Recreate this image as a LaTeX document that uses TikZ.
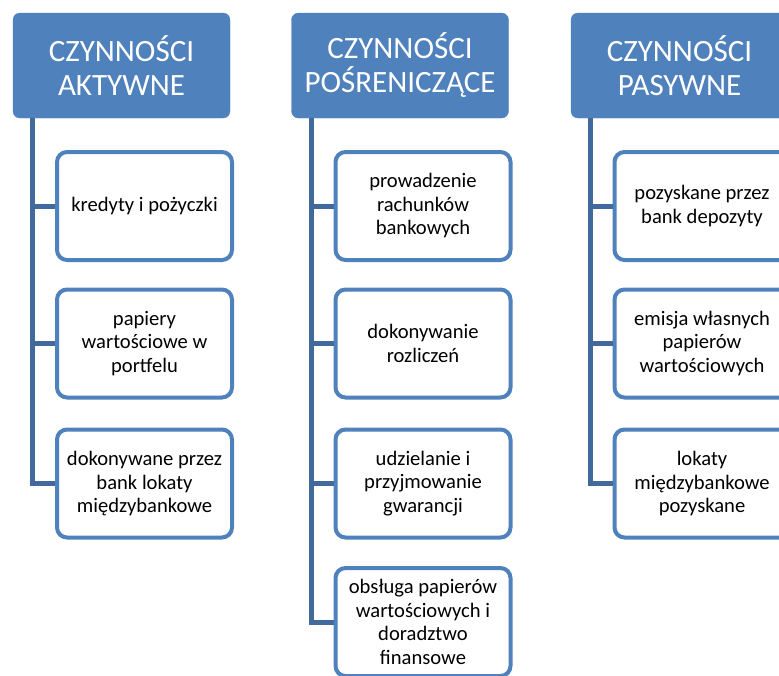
\documentclass[tikz,border=0pt]{standalone}
\usepackage{fontspec}
\setmainfont{Carlito}
\usepackage{tikz}
\usetikzlibrary{positioning}

\definecolor{headblue}{HTML}{4F81BD}
\definecolor{linkblue}{HTML}{41699B}

\begin{document}
\begin{tikzpicture}[x=1pt, y=-1pt,
  head/.style={fill=headblue, draw=headblue, rounded corners=7pt, text=white,
    minimum width=217pt, minimum height=105pt, align=center,
    font=\fontsize{31}{34}\selectfont},
  item/.style={fill=white, draw=headblue, line width=4pt, rounded corners=10pt,
    minimum width=175pt, minimum height=108pt, align=center,
    font=\fontsize{20.6}{23.5}\selectfont},
  branch/.style={draw=linkblue, line width=5pt}]

\useasboundingbox (0,0) rectangle (779,675);
\clip (0,0) rectangle (779,675);

% headers
\node[head] (ha) at (121.5,65.5) {CZYNNOŚCI\\AKTYWNE};
\node[head] (hp) at (400,65.5)   {CZYNNOŚCI\\POŚRENICZĄCE};
\node[head] (hs) at (679.5,65.5) {CZYNNOŚCI\\PASYWNE};

% column 1
\node[item] (a1) at (144.5,206)   {kredyty i pożyczki};
\node[item] (a2) at (144.5,343.5) {papiery\\wartościowe w\\portfelu};
\node[item] (a3) at (144.5,483.5) {dokonywane przez\\bank lokaty\\międzybankowe};

% column 2
\node[item] (p1) at (423,206)   {prowadzenie\\rachunków\\bankowych};
\node[item] (p2) at (423,343.5) {dokonywanie\\rozliczeń};
\node[item] (p3) at (423,483.5) {udzielanie i\\przyjmowanie\\gwarancji};
\node[item] (p4) at (423,622)   {obsługa papierów\\wartościowych i\\doradztwo\\finansowe};

% column 3
\node[item] (s1) at (702,206)   {pozyskane przez\\bank depozyty};
\node[item] (s2) at (702,343.5) {emisja własnych\\papierów\\wartościowych};
\node[item] (s3) at (702,483.5) {lokaty\\międzybankowe\\pozyskane};

\foreach \h/\c in {ha/a1, ha/a2, ha/a3, hp/p1, hp/p2, hp/p3, hp/p4,
                   hs/s1, hs/s2, hs/s3}
  \draw[branch] ([xshift=20pt]\h.south west) |- (\c.west);

\end{tikzpicture}
\end{document}
